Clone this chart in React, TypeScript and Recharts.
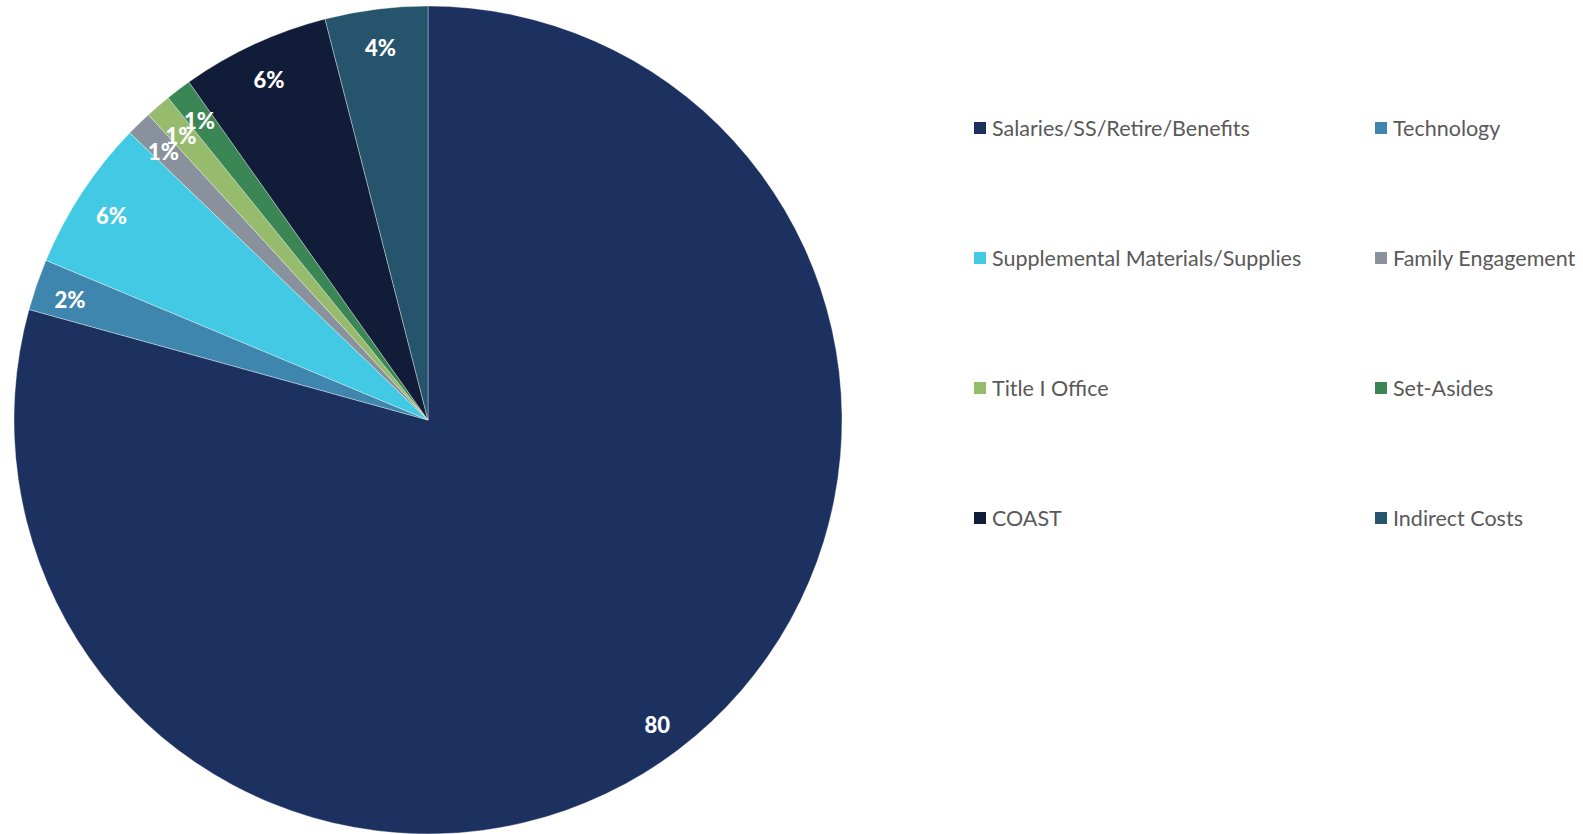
import React from 'react';
import { PieChart, Pie, Cell, Legend } from 'recharts';

const categories = [
  'Salaries/SS/Retire/Benefits',
  'Technology',
  'Supplemental Materials/Supplies',
  'Family Engagement',
  'Title I Office',
  'Set-Asides',
  'COAST',
  'Indirect Costs',
];
const values = [79.3, 2.0, 5.9, 1.0, 1.0, 1.0, 5.8, 4.0];
const sliceLabels = ['80', '2%', '6%', '1%', '1%', '1%', '6%', '4%'];
const colors = ['#1c3160', '#3e86ad', '#42c9e4', '#89929c', '#97bb6d', '#3a8654', '#111c38', '#25546c'];

const data = categories.map((name, i) => ({ name, value: values[i] }));

const RADIAN = Math.PI / 180;

const renderLabel = (props: any) => {
  const { cx, cy, midAngle, outerRadius, index } = props;
  const r = outerRadius * 0.915;
  const x = cx + r * Math.cos(-midAngle * RADIAN);
  const y = cy + r * Math.sin(-midAngle * RADIAN) + 3;
  return (
    <text
      x={x}
      y={y}
      fill="#ffffff"
      textAnchor="middle"
      dominantBaseline="central"
      style={{ fontFamily: 'Lato, sans-serif', fontWeight: 900, fontSize: 22 }}
    >
      {sliceLabels[index]}
    </text>
  );
};

const renderLegend = (props: any) => {
  const items = categories.map((c, i) => {
    const found = (props.payload || []).find((p: any) => p.value === c);
    return { value: found ? found.value : c, color: colors[i] };
  });
  return (
    <div style={{ display: 'grid', gridTemplateColumns: '401px 210px', rowGap: 100 }}>
      {items.map((p, i) => (
        <div key={i} style={{ display: 'flex', alignItems: 'center', height: 30, whiteSpace: 'nowrap' }}>
          <span style={{ width: 12, height: 12, flexShrink: 0, background: p.color, display: 'inline-block', marginRight: 6 }} />
          <span style={{ fontFamily: 'Lato, sans-serif', fontSize: 21.5, color: '#595959' }}>{p.value}</span>
        </div>
      ))}
    </div>
  );
};

export default function App() {
  return (
    <div style={{ position: 'absolute', left: 0, top: 0, background: '#fff' }}>
      <PieChart width={1583} height={834} margin={{ top: 0, right: 0, bottom: 0, left: 0 }}>
        <Pie
          data={data}
          dataKey="value"
          nameKey="name"
          cx={428}
          cy={420}
          outerRadius={414}
          startAngle={90}
          endAngle={-270}
          stroke="rgba(255,255,255,0.35)"
          strokeWidth={1}
          label={renderLabel}
          labelLine={false}
          isAnimationActive={false}
        >
          {data.map((d, i) => (
            <Cell key={d.name} fill={colors[i]} />
          ))}
        </Pie>
        <Legend
          content={renderLegend}
          itemSorter={null as any}
          wrapperStyle={{ position: 'absolute', left: 974, top: 113, width: 620 }}
        />
      </PieChart>
    </div>
  );
}
